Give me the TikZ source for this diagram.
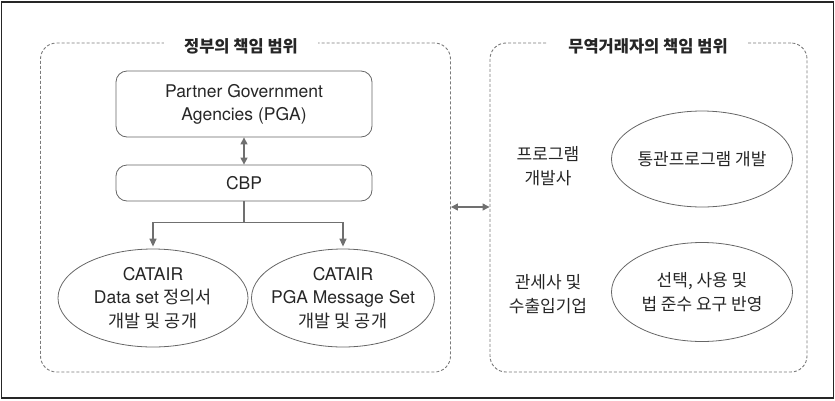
\documentclass[tikz,border=0pt]{standalone}
\usepackage{fontspec}
\setmainfont{TeX Gyre Heros}
\newfontfamily\kr{Noto Sans CJK KR}
\usetikzlibrary{arrows.meta,shapes.geometric,calc}
\definecolor{lc}{HTML}{666666}
\definecolor{ac}{HTML}{707070}
\definecolor{dc}{HTML}{7A7A7A}
\newcommand{\K}[1]{{\kr #1}}
\tikzset{
  areabox/.style={draw=dc, line width=0.9pt, dash pattern=on 3pt off 2pt, rounded corners=16pt, inner sep=0pt},
  areatitle/.style={fill=white, font=\kr\fontsize{16.5}{18}\selectfont\bfseries, inner xsep=20pt, inner ysep=2pt, text=black!85},
  rbox/.style={draw=lc, line width=0.8pt, rounded corners=11pt, inner sep=0pt, align=center, font=\fontsize{17.5}{23}\selectfont, text=black!85},
  oval/.style={draw=lc, line width=0.8pt, ellipse, inner sep=0pt},
  lbl/.style={align=center, font=\fontsize{17.5}{23.5}\selectfont, text=black!85, inner sep=0pt},
  krlbl/.style={align=center, font=\kr\fontsize{17}{24.5}\selectfont, text=black!85, inner sep=0pt},
  conn/.style={draw=ac, line width=1.3pt, -{Triangle[length=8pt,width=7pt]}},
  dconn/.style={draw=ac, line width=1.3pt, {Triangle[length=7pt,width=7pt]}-{Triangle[length=7pt,width=7pt]}}
}
\begin{document}
\begin{tikzpicture}[x=1pt,y=-1pt]
\useasboundingbox (0,0) rectangle (835,400);
\node[draw=black!85, line width=1.3pt, minimum width=832pt, minimum height=396pt, inner sep=0pt] (frame) at (417.5,200) {};
% area boxes
\node[areabox, minimum width=410pt, minimum height=329pt] (lb) at (245.5,207.5) {};
\node[areabox, minimum width=317pt, minimum height=329pt] (rb) at (648.5,207.5) {};
\node[areatitle] (lt) at (241,46) {정부의 책임 범위};
\node[areatitle] (rt) at (648,46) {무역거래자의 책임 범위};
% left content
\node[rbox, minimum width=256pt, minimum height=66pt] (pga) at (244,104) {Partner Government\\Agencies (PGA)};
\node[rbox, minimum width=256pt, minimum height=36pt] (cbp) at (244,183) {CBP};
\node[oval, minimum width=190pt, minimum height=98pt] (e1) at (153,298) {};
\node[lbl] (t1) at (e1.center) {CATAIR\\Data set \K{정의서}\\\K{개발 및 공개}};
\node[oval, minimum width=183pt, minimum height=98pt] (e2) at (343,298) {};
\node[lbl] (t2) at (e2.center) {CATAIR\\PGA Message Set\\\K{개발 및 공개}};
\draw[dconn] (pga.south) -- (cbp.north);
\coordinate (j) at ($(cbp.south)+(0,21)$);
\draw[draw=ac, line width=1.3pt] (cbp.south) -- (j);
\draw[conn, shorten >=2pt] (j) -| (e1.north);
\draw[conn, shorten >=2pt] (j) -| (e2.north);
% right content
\node[krlbl] (p1) at (548,166) {프로그램\\개발사};
\node[oval, minimum width=181pt, minimum height=96pt] (e3) at (702,159) {};
\node[krlbl] (t3) at (e3.center) {통관프로그램 개발};
\node[krlbl] (p2) at (548,294) {관세사 및\\수출입기업};
\node[oval, minimum width=181pt, minimum height=99pt] (e4) at (702,292) {};
\node[krlbl] (t4) at (e4.center) {선택, 사용 및\\법 준수 요구 반영};
\coordinate (mid) at (470,207);
\draw[dconn] (lb.east |- mid) -- (rb.west |- mid);
\end{tikzpicture}
\end{document}
